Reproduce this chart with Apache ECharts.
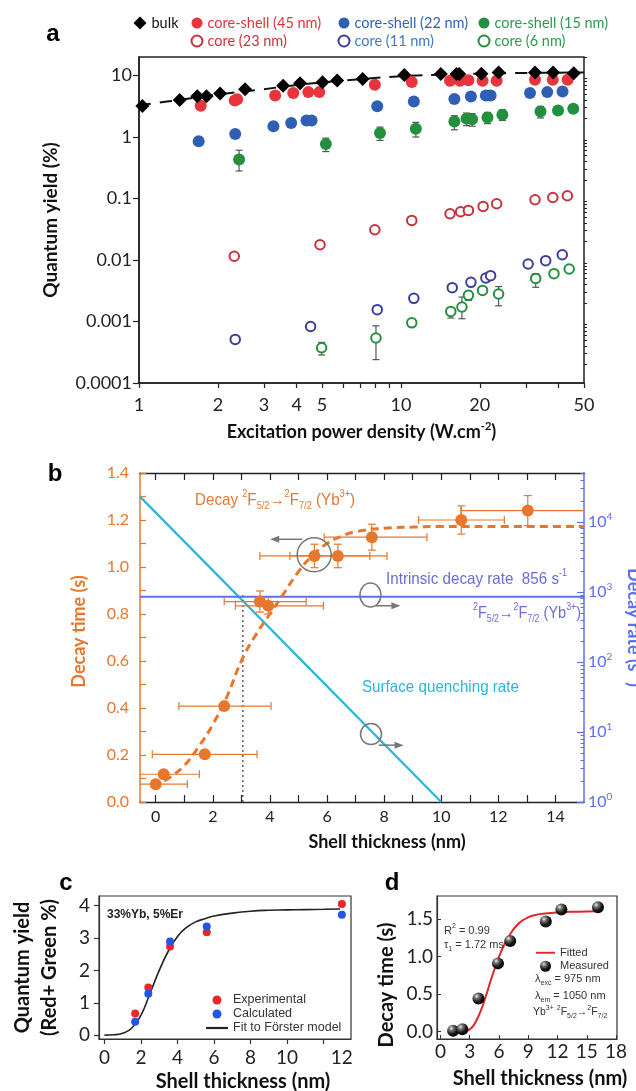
<!DOCTYPE html>
<html>
<head>
<meta charset="utf-8">
<script src="https://cdn.jsdelivr.net/npm/echarts@6/dist/echarts.min.js"></script>
<style>
  html, body { margin: 0; padding: 0; background: #fff; }
  #main { width: 636px; height: 1091px; }
</style>
</head>
<body>
<div id="main"></div>
<script>
// ---------- panel a : quantum yield vs excitation power density ----------
var bulkX = [1.03, 1.43, 1.67, 1.81, 2.04, 2.54, 3.55, 4.12, 5.02, 5.71, 7.14, 10.3, 14.2, 16.3, 16.7, 20.3, 23.6, 32.5, 38.1, 45.7];
var bulkY = [3.2, 4.0, 4.6, 4.6, 5.1, 6.0, 6.8, 7.5, 7.8, 8.3, 8.8, 10.2, 10.6, 10.6, 10.6, 10.7, 11.2, 11.2, 11.2, 10.9];
var bulkFitX = [1, 1.3, 2, 3, 4, 5, 7, 10, 15, 20, 30, 50];
var bulkFitY = [3.3, 3.8, 4.9, 6.0, 7.0, 7.7, 8.7, 9.7, 10.4, 10.7, 11.0, 11.2];

var cs45X = [1.72, 2.32, 2.37, 3.31, 3.88, 4.43, 4.88, 7.95, 11.0, 15.4, 16.8, 18.1, 20.5, 23.2, 32.5, 38.0, 43.3];
var cs45Y = [3.23, 3.94, 4.1, 4.75, 5.19, 5.37, 5.37, 7.1, 7.84, 8.23, 8.23, 8.4, 8.2, 8.2, 8.55, 8.55, 8.55];
var core23X = [2.31, 4.91, 7.95, 11.0, 15.4, 16.9, 18.1, 20.6, 23.2, 32.5, 38.0, 43.2];
var core23Y = [0.0115, 0.0177, 0.0311, 0.044, 0.0566, 0.061, 0.064, 0.0744, 0.0823, 0.0955, 0.104, 0.111];

var cs22X = [1.69, 2.33, 3.26, 3.81, 4.36, 4.56, 8.12, 11.2, 16.0, 18.5, 21.1, 22.0, 31.1, 36.2, 41.4];
var cs22Y = [0.85, 1.12, 1.49, 1.69, 1.86, 1.86, 3.15, 3.79, 4.15, 4.57, 4.75, 4.75, 5.19, 5.37, 5.52];
var core11X = [2.33, 4.52, 8.12, 11.2, 15.7, 18.5, 21.1, 22.0, 30.6, 35.7, 41.3];
var core11Y = [0.000512, 0.00083, 0.00156, 0.00238, 0.00355, 0.00433, 0.0051, 0.00556, 0.0086, 0.00975, 0.0122];

var cs15X = [2.41, 5.17, 8.32, 11.4, 16.0, 17.8, 18.7, 21.4, 24.4, 34.1, 39.8, 45.5];
var cs15Y = [0.43, 0.77, 1.16, 1.36, 1.79, 1.99, 1.95, 2.08, 2.31, 2.61, 2.71, 2.89];
var cs15Lo = [0.28, 0.58, 0.88, 1.0, 1.31, 1.53, 1.5, 1.65, 1.86, 2.04, 2.45, 2.6];
var cs15Hi = [0.61, 0.96, 1.45, 1.73, 2.22, 2.45, 2.4, 2.51, 2.78, 3.15, 3.0, 3.2];
var core6X = [4.98, 8.03, 11.0, 15.5, 17.1, 18.1, 20.5, 23.6, 32.7, 38.4, 43.9];
var core6Y = [0.000375, 0.00054, 0.00095, 0.00146, 0.00172, 0.00266, 0.0032, 0.0028, 0.00502, 0.006, 0.00714];
var core6Lo = [0.000285, 0.00024, 0.00088, 0.00114, 0.00111, 0.0022, 0.0029, 0.0018, 0.0036, 0.0055, 0.0066];
var core6Hi = [0.000457, 0.00085, 0.00103, 0.00166, 0.0025, 0.0031, 0.0035, 0.0037, 0.006, 0.0066, 0.0078];

var aTickX = [1, 2, 3, 4, 5, 6, 7, 8, 9, 10, 20, 30, 40, 50];
var aLabelX = [1, 2, 3, 4, 5, 10, 20, 50];
var aDecades = [0.0001, 0.001, 0.01, 0.1, 1, 10];

// ---------- panel b : decay time / decay rate vs shell thickness ----------
var decayX = [0.0, 0.28, 1.72, 2.4, 3.65, 3.94, 5.56, 6.38, 7.57, 10.7, 13.03];
var decayY = [0.076, 0.118, 0.203, 0.408, 0.853, 0.835, 1.047, 1.047, 1.127, 1.2, 1.24];
var decayXLo = [-0.6, -0.6, -0.12, 0.81, 2.4, 2.79, 3.65, 4.7, 5.9, 9.21, 10.69];
var decayXHi = [1.11, 1.53, 3.55, 4.04, 5.27, 5.87, 7.5, 8.1, 9.5, 12.21, 15.5];
var decayYErr = [0.01, 0.01, 0.01, 0.015, 0.045, 0.035, 0.05, 0.05, 0.055, 0.06, 0.064];
var decayFitX = [0.3, 0.5, 1.0, 1.5, 2.0, 2.5, 3.0, 3.5, 4.0, 4.5, 5.0, 5.5, 6.0, 6.5, 7.0, 8.0, 9.0, 10.0, 12.0, 15.0];
var decayFitY = [0.09, 0.105, 0.155, 0.235, 0.33, 0.45, 0.6, 0.71, 0.8, 0.89, 0.98, 1.05, 1.1, 1.13, 1.15, 1.165, 1.17, 1.172, 1.172, 1.172];
var quenchX = [-0.55, 10];
var quenchRate = [23000, 1];
var intrinsicX = [-0.55, 15];
var intrinsicRate = [856, 856];
var crossX = [3.05, 3.05];
var crossY = [0, 0.88];
var bCircleAt = [[5.55, 1.052], [7.52, 0.881], [7.54, 0.289]];
var bArrows = [[5.13, 1.118, 4.01, 1.118], [7.69, 0.835, 8.57, 0.835], [7.81, 0.242, 8.68, 0.242]];
var bTickX = [0, 1, 2, 3, 4, 5, 6, 7, 8, 9, 10, 11, 12, 13, 14];
var bLabelX = [0, 2, 4, 6, 8, 10, 12, 14];
var bRateDecades = [1, 10, 100, 1000, 10000];

// ---------- panel c : quantum yield vs shell thickness ----------
var cX = [1.68, 2.4, 3.59, 5.6, 13.0];
var cExp = [0.67, 1.47, 2.74, 3.18, 4.05];
var cCalc = [0.41, 1.28, 2.89, 3.36, 3.72];
var cFitX = [0, 0.5, 1, 1.5, 2, 2.5, 3, 3.5, 4, 4.5, 5, 5.5, 6, 7, 8, 9, 10, 11, 12, 12.9];
var cFitY = [0, 0.01, 0.06, 0.22, 0.62, 1.3, 2.0, 2.6, 3.05, 3.33, 3.5, 3.6, 3.68, 3.77, 3.83, 3.86, 3.87, 3.88, 3.89, 3.9];
var cTickX = [0, 2, 4, 6, 8, 10, 12];
var cLabelPos = [0, 2, 4, 6, 8, 10, 13];
var cLabelText = ['0', '2', '4', '6', '8', '10', '12'];
var cTickY = [0, 1, 2, 3, 4];

// ---------- panel d : decay time vs shell thickness ----------
var dX = [1.3, 2.25, 3.9, 5.9, 7.15, 10.8, 12.4, 16.15];
var dY = [0.01, 0.03, 0.44, 0.91, 1.21, 1.47, 1.63, 1.66];
var dFitX = [1.3, 2.0, 2.7, 3.2, 3.7, 4.2, 4.7, 5.2, 5.7, 6.2, 6.7, 7.2, 7.7, 8.5, 9.5, 11, 12.5, 14, 16.2];
var dFitY = [0, 0, 0.01, 0.05, 0.15, 0.3, 0.49, 0.7, 0.89, 1.06, 1.2, 1.31, 1.4, 1.49, 1.55, 1.58, 1.595, 1.6, 1.605];
var dTickX = [0, 3, 6, 9, 12, 15, 18];
var dTickY = [0, 0.5, 1.0, 1.5];

// ---------- helpers ----------
var LATO = 'Lato, "Liberation Sans", sans-serif';
var ARIAL = '"Liberation Sans", Arial, sans-serif';
var ORANGE = '#e8772e', RATEBLUE = '#5b6ff0', CYAN = '#25b8dc';
var LINE_ICON = 'path://M0,0L20,0L20,2L0,2Z';

function zip(xs, ys) { return xs.map(function (x, i) { return [x, ys[i]]; }); }
function minorLog(decades, max) {
  var out = [];
  decades.forEach(function (d) { for (var k = 2; k <= 9; k++) { if (d * k <= max) out.push(d * k); } });
  return out;
}
function fmtNum(v) { return String(Number(v.toPrecision(3))); }

function vErr(color, cap) {
  return function (params, api) {
    var x = api.value(0);
    var p1 = api.coord([x, api.value(1)]), p2 = api.coord([x, api.value(2)]);
    var s = { stroke: color, lineWidth: 1.2 };
    return { type: 'group', children: [
      { type: 'line', shape: { x1: p1[0], y1: p1[1], x2: p2[0], y2: p2[1] }, style: s },
      { type: 'line', shape: { x1: p1[0] - cap, y1: p1[1], x2: p1[0] + cap, y2: p1[1] }, style: s },
      { type: 'line', shape: { x1: p2[0] - cap, y1: p2[1], x2: p2[0] + cap, y2: p2[1] }, style: s }
    ] };
  };
}

function xyErr(params, api) {
  var x = api.value(0), y = api.value(1);
  var l = api.coord([api.value(2), y]), r = api.coord([api.value(3), y]);
  var t = api.coord([x, y + api.value(4)]), b = api.coord([x, y - api.value(4)]);
  var s = { stroke: ORANGE, lineWidth: 1.2 };
  var cap = 4;
  return { type: 'group', children: [
    { type: 'line', shape: { x1: l[0], y1: l[1], x2: r[0], y2: r[1] }, style: s },
    { type: 'line', shape: { x1: l[0], y1: l[1] - cap, x2: l[0], y2: l[1] + cap }, style: s },
    { type: 'line', shape: { x1: r[0], y1: r[1] - cap, x2: r[0], y2: r[1] + cap }, style: s },
    { type: 'line', shape: { x1: t[0], y1: t[1], x2: b[0], y2: b[1] }, style: s },
    { type: 'line', shape: { x1: t[0] - cap, y1: t[1], x2: t[0] + cap, y2: t[1] }, style: s },
    { type: 'line', shape: { x1: b[0] - cap, y1: b[1], x2: b[0] + cap, y2: b[1] }, style: s }
  ] };
}

var circleR = [[17, 17], [10.5, 12], [10.5, 10.5]];
function annotCircle(params, api) {
  var p = api.coord([api.value(0), api.value(1)]);
  var r = circleR[params.dataIndex];
  return { type: 'ellipse', shape: { cx: p[0], cy: p[1], rx: r[0], ry: r[1] },
    style: { fill: 'none', stroke: '#777', lineWidth: 1.5 } };
}
function annotArrow(params, api) {
  var a = api.coord([api.value(0), api.value(1)]), b = api.coord([api.value(2), api.value(3)]);
  var dir = b[0] < a[0] ? 1 : -1;
  return { type: 'group', children: [
    { type: 'line', shape: { x1: a[0], y1: a[1], x2: b[0] + dir * 6, y2: b[1] }, style: { stroke: '#777', lineWidth: 1.5 } },
    { type: 'polygon', shape: { points: [[b[0], b[1]], [b[0] + dir * 9, b[1] - 3.5], [b[0] + dir * 9, b[1] + 3.5]] }, style: { fill: '#777' } }
  ] };
}

var sup = function (size, color) { return { fontSize: size, verticalAlign: 'top', lineHeight: size + 1, fill: color }; };
var sub = function (size, color) { return { fontSize: size, verticalAlign: 'bottom', lineHeight: size + 1, fill: color }; };
// narrow: horizontal squeeze to imitate a condensed face
function richText(x, y, text, color, size, family, extra, narrow) {
  var st = { text: text, fill: color, fontSize: size, fontFamily: family, lineHeight: size + 5,
    verticalAlign: 'middle', align: 'left',
    rich: { sup: sup(Math.round(size * 0.62), color), sub: sub(Math.round(size * 0.62), color) } };
  if (extra) { for (var k in extra) st[k] = extra[k]; }
  return { type: 'text', x: x, y: y, z: 100, scaleX: narrow || 1, style: st };
}

var sphere = { type: 'radial', x: 0.35, y: 0.3, r: 0.75, colorStops: [
  { offset: 0, color: '#f0f0f0' }, { offset: 0.25, color: '#777' }, { offset: 0.65, color: '#151515' }, { offset: 1, color: '#000' }] };

var chart = echarts.init(document.getElementById('main'));

var legendBase = { orient: 'vertical', padding: 0, itemGap: 0, itemWidth: 11, itemHeight: 11, selectedMode: false,
  textStyle: { fontFamily: LATO, fontSize: 14.5, lineHeight: 18, color: '#111' } };
function leg(left, top, data, extra) {
  var o = { left: left, top: top, data: data };
  for (var k in legendBase) o[k] = legendBase[k];
  if (extra) { for (var j in extra) o[j] = extra[j]; }
  return o;
}

var option = {
  animation: false,
  backgroundColor: '#fff',
  textStyle: { fontFamily: LATO },
  grid: [
    { left: 139, top: 57, width: 445, height: 326, show: true, borderColor: '#222', borderWidth: 1.5, backgroundColor: 'transparent', outerBoundsMode: 'none' },
    { left: 140, top: 473, width: 444, height: 329, outerBoundsMode: 'none' },
    { left: 99, top: 896, width: 252, height: 143, show: true, borderColor: '#333', borderWidth: 1.2, backgroundColor: 'transparent', outerBoundsMode: 'none' },
    { left: 437, top: 896, width: 180, height: 143, show: true, borderColor: '#333', borderWidth: 1.2, backgroundColor: 'transparent', outerBoundsMode: 'none' }
  ],
  legend: [
    leg(133.5, 14, [{ name: 'bulk', icon: 'diamond' }], { itemWidth: 13, itemHeight: 13 }),
    leg(190.5, 14, [
      { name: 'core-shell (45 nm)', icon: 'circle', textStyle: { color: '#e3343b' } },
      { name: 'core (23 nm)', icon: 'emptyCircle', itemStyle: { borderWidth: 2.2 }, textStyle: { color: '#c9343d' } }]),
    leg(337.5, 14, [
      { name: 'core-shell (22 nm)', icon: 'circle', textStyle: { color: '#2f63b5' } },
      { name: 'core (11 nm)', icon: 'emptyCircle', itemStyle: { borderWidth: 2.2 }, textStyle: { color: '#3f7cc0' } }]),
    leg(477.5, 14, [
      { name: 'core-shell (15 nm)', icon: 'circle', textStyle: { color: '#2f9a4b' } },
      { name: 'core (6 nm)', icon: 'emptyCircle', itemStyle: { borderWidth: 2.2 }, textStyle: { color: '#2f9a4b' } }]),
    leg(206, 993, [{ name: 'Experimental', icon: 'circle' }, { name: 'Calculated', icon: 'circle' }, { name: 'Fit to Förster model', icon: LINE_ICON }],
      { itemWidth: 22, itemHeight: 9, symbolKeepAspect: true, textStyle: { fontFamily: ARIAL, fontSize: 12.5, lineHeight: 14, color: '#333' } }),
    leg(536, 946, [{ name: 'Fitted', icon: LINE_ICON }, { name: 'Measured', icon: 'circle' }],
      { itemWidth: 19, itemHeight: 11, symbolKeepAspect: true, textStyle: { fontFamily: ARIAL, fontSize: 11, lineHeight: 13.5, color: '#333' } })
  ],
  xAxis: [
    { type: 'log', logBase: 10, gridIndex: 0, min: 1, max: 50,
      axisLine: { show: true, onZero: false, lineStyle: { color: '#222', width: 1.5 } },
      axisTick: { show: true, inside: false, length: 5, customValues: aTickX, lineStyle: { color: '#222', width: 1.2 } },
      axisLabel: { customValues: aLabelX, formatter: fmtNum, fontSize: 18, color: '#222', fontFamily: LATO, margin: 13 },
      splitLine: { show: false },
      name: 'Excitation power density (W.cm{sup|-2})', nameLocation: 'middle', nameGap: 38,
      nameTextStyle: { fontSize: 18, fontWeight: 'bold', color: '#111', fontFamily: LATO, lineHeight: 22,
        rich: { sup: { fontSize: 11, fontWeight: 'bold', verticalAlign: 'top', lineHeight: 12, fontFamily: LATO, color: '#111' } } } },
    { type: 'value', gridIndex: 1, min: -0.55, max: 15,
      axisLine: { show: true, onZero: false, lineStyle: { color: '#222', width: 1.3 } },
      axisTick: { show: true, inside: true, length: 7, customValues: bTickX, lineStyle: { color: '#222', width: 1.2 } },
      axisLabel: { customValues: bLabelX, fontSize: 16, color: '#222', fontFamily: LATO, margin: 7 },
      splitLine: { show: false },
      name: 'Shell thickness (nm)', nameLocation: 'middle', nameGap: 31,
      nameTextStyle: { fontSize: 18, fontWeight: 'bold', color: '#111', fontFamily: LATO, padding: [0, 0, 0, 50] } },
    { type: 'value', gridIndex: 1, position: 'top', min: -0.55, max: 15,
      axisLine: { show: true, onZero: false, lineStyle: { color: '#222', width: 1.3 } },
      axisTick: { show: true, inside: true, length: 7, customValues: bTickX, lineStyle: { color: '#222', width: 1.2 } },
      axisLabel: { show: false }, splitLine: { show: false } },
    { type: 'value', gridIndex: 2, min: -0.3, max: 13.5,
      axisLine: { show: true, onZero: false, lineStyle: { color: '#333', width: 1.2 } },
      axisTick: { show: true, inside: false, length: 5, customValues: cTickX, lineStyle: { color: '#333', width: 1.2 } },
      axisLabel: { customValues: cLabelPos, formatter: function (v) { return cLabelText[cLabelPos.indexOf(v)]; },
        fontSize: 19, color: '#222', fontFamily: LATO, margin: 9 },
      splitLine: { show: false },
      name: 'Shell thickness (nm)', nameLocation: 'middle', nameGap: 33,
      nameTextStyle: { fontSize: 20, fontWeight: 'bold', color: '#111', fontFamily: LATO, padding: [0, 0, 0, 36] } },
    { type: 'value', gridIndex: 3, min: -0.35, max: 18.1,
      axisLine: { show: true, onZero: false, lineStyle: { color: '#333', width: 1.2 } },
      axisTick: { show: true, inside: true, length: 4, customValues: dTickX, lineStyle: { color: '#333' } },
      axisLabel: { customValues: dTickX, fontSize: 19, color: '#222', fontFamily: LATO, margin: 3 },
      splitLine: { show: false },
      name: 'Shell thickness (nm)', nameLocation: 'middle', nameGap: 30,
      nameTextStyle: { fontSize: 20, fontWeight: 'bold', color: '#111', fontFamily: LATO, padding: [0, 0, 0, 26] } }
  ],
  yAxis: [
    { type: 'log', logBase: 10, gridIndex: 0, min: 0.0001, max: 20,
      axisLine: { show: true, onZero: false, lineStyle: { color: '#222', width: 1.5 } },
      axisTick: { show: true, inside: false, length: 6, customValues: aDecades, lineStyle: { color: '#222', width: 1.2 } },
      axisLabel: { customValues: aDecades, formatter: fmtNum, fontSize: 18, color: '#222', fontFamily: LATO, margin: 7 },
      splitLine: { show: false },
      name: 'Quantum yield (%)', nameLocation: 'middle', nameGap: 79,
      nameTextStyle: { fontSize: 19, fontWeight: 'bold', color: '#111', fontFamily: LATO } },
    { type: 'log', logBase: 10, gridIndex: 0, min: 0.0001, max: 20,
      axisLine: { show: false, onZero: false },
      axisTick: { show: true, inside: false, length: 3, customValues: minorLog(aDecades, 20), lineStyle: { color: '#222' } },
      axisLabel: { show: false }, splitLine: { show: false } },
    { type: 'value', gridIndex: 1, min: 0, max: 1.4, interval: 0.2,
      axisLine: { show: true, onZero: false, lineStyle: { color: ORANGE, width: 1.5 } },
      axisTick: { show: true, inside: true, length: 6, lineStyle: { color: ORANGE, width: 1.2 } },
      minorTick: { show: true, splitNumber: 2, length: 6, lineStyle: { color: ORANGE, width: 1.2 } },
      axisLabel: { formatter: function (v) { return v.toFixed(1); }, fontSize: 16, color: ORANGE, fontFamily: LATO, margin: 11 },
      splitLine: { show: false },
      name: 'Decay time (s)', nameLocation: 'middle', nameGap: 52,
      nameTextStyle: { fontSize: 18, fontWeight: 'bold', color: ORANGE, fontFamily: LATO, padding: [0, 0, 0, 12] } },
    { type: 'log', logBase: 10, gridIndex: 1, position: 'right', min: 1, max: 50000,
      axisLine: { show: true, onZero: false, lineStyle: { color: RATEBLUE, width: 1.5 } },
      axisTick: { show: true, inside: true, length: 7, customValues: bRateDecades, lineStyle: { color: RATEBLUE, width: 1.2 } },
      axisLabel: { customValues: bRateDecades, fontSize: 16, color: RATEBLUE, fontFamily: LATO, margin: 4, lineHeight: 20,
        formatter: function (v) { return '10{sup|' + Math.round(Math.log(v) / Math.LN10) + '}'; },
        rich: { sup: { fontSize: 10, verticalAlign: 'top', lineHeight: 11, color: RATEBLUE, fontFamily: LATO } } },
      splitLine: { show: false },
      name: 'Decay rate (s{sup|-1})', nameLocation: 'middle', nameGap: 33, nameRotate: -90,
      nameTextStyle: { fontSize: 18, fontWeight: 'bold', color: RATEBLUE, fontFamily: LATO, lineHeight: 22, padding: [0, 20, 0, 0],
        rich: { sup: { fontSize: 11, fontWeight: 'bold', verticalAlign: 'top', lineHeight: 12, color: RATEBLUE, fontFamily: LATO } } } },
    { type: 'log', logBase: 10, gridIndex: 1, position: 'right', min: 1, max: 50000,
      axisLine: { show: false, onZero: false },
      axisTick: { show: true, inside: true, length: 3.5, customValues: minorLog(bRateDecades, 50000), lineStyle: { color: RATEBLUE } },
      axisLabel: { show: false }, splitLine: { show: false } },
    { type: 'value', gridIndex: 2, min: -0.12, max: 4.3,
      axisLine: { show: true, onZero: false, lineStyle: { color: '#333', width: 1.2 } },
      axisTick: { show: true, inside: false, length: 5, customValues: cTickY, lineStyle: { color: '#333', width: 1.2 } },
      axisLabel: { customValues: cTickY, fontSize: 19, color: '#222', fontFamily: LATO, margin: 9 },
      splitLine: { show: false },
      name: 'Quantum yield\n(Red+ Green %)', nameLocation: 'middle', nameGap: 36,
      nameTextStyle: { fontSize: 20, fontWeight: 'bold', color: '#111', fontFamily: LATO, lineHeight: 27 } },
    { type: 'value', gridIndex: 3, min: -0.1, max: 1.81,
      axisLine: { show: true, onZero: false, lineStyle: { color: '#333', width: 1.2 } },
      axisTick: { show: true, inside: true, length: 4, customValues: dTickY, lineStyle: { color: '#333' } },
      axisLabel: { customValues: dTickY, formatter: function (v) { return v.toFixed(1); }, fontSize: 19, color: '#222', fontFamily: LATO, margin: 4 },
      splitLine: { show: false },
      name: 'Decay time (s)', nameLocation: 'middle', nameGap: 40,
      nameTextStyle: { fontSize: 20, fontWeight: 'bold', color: '#111', fontFamily: LATO, padding: [0, 35, 0, 0] } }
  ],
  series: [
    // ---- a ----
    { name: 'bulk fit', type: 'line', xAxisIndex: 0, yAxisIndex: 0, data: zip(bulkFitX, bulkFitY), smooth: true,
      symbol: 'none', lineStyle: { color: '#111', width: 2, type: [12, 9] }, z: 2, silent: true },
    { name: 'core-shell (45 nm)', type: 'scatter', xAxisIndex: 0, yAxisIndex: 0, data: zip(cs45X, cs45Y),
      symbol: 'circle', symbolSize: 12, itemStyle: { color: '#e8343c', opacity: 1 }, z: 3 },
    { name: 'core (23 nm)', type: 'scatter', xAxisIndex: 0, yAxisIndex: 0, data: zip(core23X, core23Y),
      symbol: 'emptyCircle', symbolSize: 9.5, itemStyle: { color: '#c8323c', borderColor: '#c8323c', borderWidth: 2.8, opacity: 1 }, z: 3 },
    { name: 'core-shell (22 nm)', type: 'scatter', xAxisIndex: 0, yAxisIndex: 0, data: zip(cs22X, cs22Y),
      symbol: 'circle', symbolSize: 12, itemStyle: { color: '#2f5fb3', opacity: 1 }, z: 3 },
    { name: 'core (11 nm)', type: 'scatter', xAxisIndex: 0, yAxisIndex: 0, data: zip(core11X, core11Y),
      symbol: 'emptyCircle', symbolSize: 9.5, itemStyle: { color: '#3a3f9e', borderColor: '#3a3f9e', borderWidth: 2.8, opacity: 1 }, z: 3 },
    { name: 'cs15 err', type: 'custom', xAxisIndex: 0, yAxisIndex: 0, renderItem: vErr('#555', 3.5),
      data: cs15X.map(function (x, i) { return [x, cs15Lo[i], cs15Hi[i]]; }), z: 2, silent: true },
    { name: 'core-shell (15 nm)', type: 'scatter', xAxisIndex: 0, yAxisIndex: 0, data: zip(cs15X, cs15Y),
      symbol: 'circle', symbolSize: 12, itemStyle: { color: '#23903f', opacity: 1 }, z: 3 },
    { name: 'core6 err', type: 'custom', xAxisIndex: 0, yAxisIndex: 0, renderItem: vErr('#555', 3.5),
      data: core6X.map(function (x, i) { return [x, core6Lo[i], core6Hi[i]]; }), z: 2, silent: true },
    { name: 'core (6 nm)', type: 'scatter', xAxisIndex: 0, yAxisIndex: 0, data: zip(core6X, core6Y),
      symbol: 'emptyCircle', symbolSize: 9.5, itemStyle: { color: '#23903f', borderColor: '#23903f', borderWidth: 2.8, opacity: 1 }, z: 3 },
    { name: 'bulk', type: 'scatter', xAxisIndex: 0, yAxisIndex: 0, data: zip(bulkX, bulkY),
      symbol: 'diamond', symbolSize: 14, itemStyle: { color: '#000', opacity: 1 }, z: 4 },
    // ---- b ----
    { name: 'Surface quenching rate', type: 'line', xAxisIndex: 1, yAxisIndex: 3, data: zip(quenchX, quenchRate),
      symbol: 'none', lineStyle: { color: CYAN, width: 2.2 }, z: 2, silent: true },
    { name: 'Intrinsic decay rate', type: 'line', xAxisIndex: 1, yAxisIndex: 3, data: zip(intrinsicX, intrinsicRate),
      symbol: 'none', lineStyle: { color: RATEBLUE, width: 2 }, z: 2, silent: true },
    { name: 'crossing', type: 'line', xAxisIndex: 1, yAxisIndex: 2, data: zip(crossX, crossY),
      symbol: 'none', lineStyle: { color: '#666', width: 1.6, type: [2, 3] }, z: 2, silent: true },
    { name: 'decay fit', type: 'line', xAxisIndex: 1, yAxisIndex: 2, data: zip(decayFitX, decayFitY), smooth: true,
      symbol: 'none', lineStyle: { color: ORANGE, width: 3, type: [8, 5] }, z: 3, silent: true },
    { name: 'decay err', type: 'custom', xAxisIndex: 1, yAxisIndex: 2, renderItem: xyErr, clip: true,
      data: decayX.map(function (x, i) { return [x, decayY[i], decayXLo[i], decayXHi[i], decayYErr[i]]; }), z: 3, silent: true },
    { name: 'Decay time', type: 'scatter', xAxisIndex: 1, yAxisIndex: 2, data: zip(decayX, decayY),
      symbol: 'circle', symbolSize: 12, itemStyle: { color: ORANGE, opacity: 1 }, z: 4 },
    { name: 'circles', type: 'custom', xAxisIndex: 1, yAxisIndex: 2, renderItem: annotCircle, data: bCircleAt, z: 5, silent: true },
    { name: 'arrows', type: 'custom', xAxisIndex: 1, yAxisIndex: 2, renderItem: annotArrow, data: bArrows, z: 5, silent: true },
    // ---- c ----
    { name: 'Fit to Förster model', type: 'line', xAxisIndex: 3, yAxisIndex: 5, data: zip(cFitX, cFitY), smooth: true,
      symbol: 'none', itemStyle: { color: '#222' }, lineStyle: { color: '#222', width: 1.6 }, z: 2 },
    { name: 'Experimental', type: 'scatter', xAxisIndex: 3, yAxisIndex: 5, data: zip(cX, cExp),
      symbol: 'circle', symbolSize: 8, itemStyle: { color: '#e8262b', opacity: 1 }, z: 3 },
    { name: 'Calculated', type: 'scatter', xAxisIndex: 3, yAxisIndex: 5, data: zip(cX, cCalc),
      symbol: 'circle', symbolSize: 8, itemStyle: { color: '#2356e8', opacity: 1 }, z: 3 },
    // ---- d ----
    { name: 'Fitted', type: 'line', xAxisIndex: 4, yAxisIndex: 6, data: zip(dFitX, dFitY), smooth: true,
      symbol: 'none', itemStyle: { color: '#e0282c' }, lineStyle: { color: '#e0282c', width: 2 }, z: 2 },
    { name: 'Measured', type: 'scatter', xAxisIndex: 4, yAxisIndex: 6, data: zip(dX, dY),
      symbol: 'circle', symbolSize: 12, itemStyle: { color: sphere, opacity: 1 }, z: 3 }
  ],
  graphic: [
    { type: 'text', x: 53, y: 34, style: { text: 'a', fontSize: 24, fontWeight: 'bold', fontFamily: ARIAL, fill: '#000', align: 'center', verticalAlign: 'middle' } },
    { type: 'text', x: 55, y: 474, style: { text: 'b', fontSize: 24, fontWeight: 'bold', fontFamily: ARIAL, fill: '#000', align: 'center', verticalAlign: 'middle' } },
    { type: 'text', x: 66, y: 883, style: { text: 'c', fontSize: 24, fontWeight: 'bold', fontFamily: ARIAL, fill: '#000', align: 'center', verticalAlign: 'middle' } },
    { type: 'text', x: 392, y: 883, style: { text: 'd', fontSize: 24, fontWeight: 'bold', fontFamily: ARIAL, fill: '#000', align: 'center', verticalAlign: 'middle' } },
    richText(195, 500, 'Decay {sup|2}F{sub|5/2}→{sup|2}F{sub|7/2} (Yb{sup|3+})', ORANGE, 16.5, ARIAL, null, 0.92),
    richText(386, 579, 'Intrinsic decay rate  856 s{sup|-1}', '#6a6cd8', 16.5, ARIAL, null, 0.92),
    richText(473, 613, '{sup|2}F{sub|5/2}→{sup|2}F{sub|7/2} (Yb{sup|3+})', '#6a6cd8', 16.5, ARIAL, null, 0.88),
    richText(362, 687, 'Surface quenching rate', CYAN, 16.5, ARIAL, null, 0.92),
    richText(107, 915, '33%Yb, 5%Er', '#222', 12, ARIAL, { fontWeight: 'bold' }),
    richText(444, 931, 'R{sup|2} = 0.99', '#333', 11, ARIAL),
    richText(444, 945, 'τ{sub|1} = 1.72 ms', '#333', 11, ARIAL),
    richText(535, 979, 'λ{sub|exc} = 975 nm', '#333', 11, ARIAL),
    richText(535, 996, 'λ{sub|em} = 1050 nm', '#333', 11, ARIAL),
    richText(533, 1012, 'Yb{sup|3+} {sup|2}F{sub|5/2}→{sup|2}F{sub|7/2}', '#333', 10.5, ARIAL)
  ]
};

chart.setOption(option);
</script>
</body>
</html>
